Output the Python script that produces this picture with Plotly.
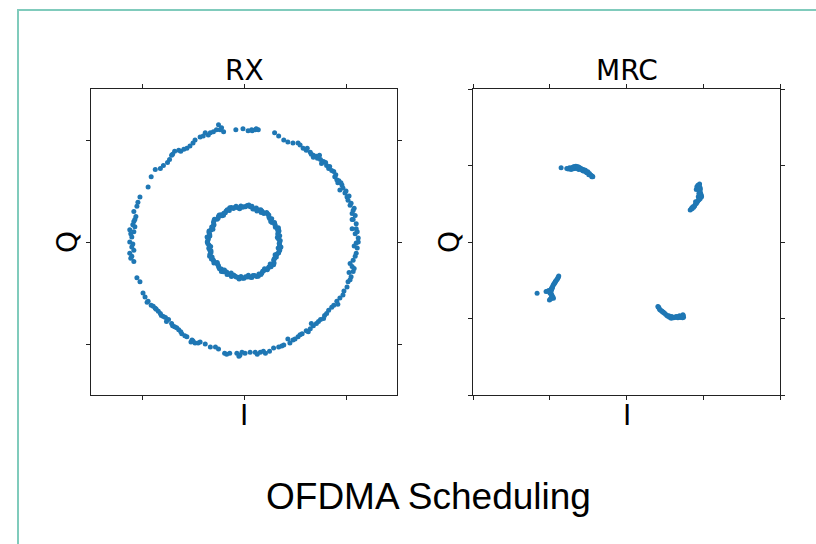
import plotly.graph_objects as go

# ---------------- data ----------------
# RX constellation: outer ring
rx_outer_i = [-0.25, -0.235, -0.20, -0.33, -0.35, -0.30, -0.08, -0.01, 0.04, 0.075, 0.11, 0.14,
              0.30, 0.34, 0.39, 0.43, 0.48, 0.53, 0.55, 0.58, 0.61, 0.65, 0.68, 0.71, 0.75, 0.78,
              0.81, 0.83, 0.88, 0.89, 0.91, 0.96, 0.97, 0.99, 1.01, 1.02, 1.04, 1.07, 1.09, 1.07,
              1.10, 1.10, 1.09, 1.12, 1.10, 1.11, 1.10, 1.07, 1.06, 1.07, 1.05, 1.02, 1.01, 0.97,
              0.94, 0.91, 0.88, 0.83, 0.79, 0.75, 0.71, 0.68, 0.65, 0.61, 0.57, 0.53, 0.48, 0.43,
              0.39, 0.34, 0.29, 0.25, 0.21, 0.16, 0.11, 0.06, 0.01, -0.04, -0.07, -0.14, -0.19,
              -0.25, -0.28, -0.33, -0.38, -0.43, -0.48, -0.51, -0.56, -0.61, -0.64, -0.68, -0.71,
              -0.74, -0.77, -0.81, -0.84, -0.87, -0.91, -0.94, -0.97, -0.99, -1.02, -1.05, -1.08,
              -1.10, -1.12, -1.08, -1.10, -1.12, -1.10, -1.08, -1.12, -1.07, -1.08, -1.06, -1.08,
              -1.05, -1.04, -1.02, -0.94, -0.91, -0.87, -0.82, -0.79, -0.73, -0.71, -0.68, -0.64,
              -0.59, -0.56, -0.53, -0.48, -0.43, -0.38, -0.27,
              0.68, 0.76, 0.92, 0.94, 1.06, 1.06, 1.08, 0.78, 0.55, -0.50, -0.82, -0.95,
              0.62, 0.66, 0.72, 0.74, 0.80, 0.84, 0.86, 0.90, 0.93, 0.95,
              1.00, 1.03, 1.05, 1.08, 1.06, 1.11, 1.12, 1.08, 1.09, 1.04, 1.03, 1.04,
              0.98, 0.92, 0.86, 0.81, 0.73, 0.66, 0.63, 0.50, 0.45, 0.37,
              0.19, 0.13, -0.02, -0.05, -0.17,
              -0.45, -0.52, -0.58, -0.62, -0.66, -0.70, -0.76, -0.79, -0.86, -0.89,
              -1.11, -1.09, -1.11, -1.09, -1.07,
              -0.75, -0.70, -0.62, -0.50, -0.40,
              -0.22, 0.08, 0.12]
rx_outer_q = [1.15, 1.10, 1.08, 1.07, 1.05, 1.08, 1.10, 1.11, 1.09, 1.10, 1.10, 1.10,
              1.07, 1.04, 1.00, 0.98, 0.97, 0.97, 0.95, 0.92, 0.90, 0.88, 0.85, 0.84, 0.81, 0.79,
              0.75, 0.72, 0.69, 0.64, 0.61, 0.56, 0.53, 0.48, 0.44, 0.41, 0.36, 0.31, 0.26, 0.22,
              0.18, 0.13, 0.08, 0.04, -0.01, -0.06, -0.11, -0.18, -0.24, -0.29, -0.34, -0.39,
              -0.44, -0.52, -0.55, -0.58, -0.62, -0.67, -0.72, -0.76, -0.80, -0.82, -0.85, -0.87,
              -0.90, -0.93, -0.96, -0.95, -1.01, -1.03, -1.04, -1.07, -1.09, -1.08, -1.08, -1.08,
              -1.09, -1.11, -1.09, -1.09, -1.09, -1.05, -1.03, -1.03, -1.00, -0.98, -0.99, -0.96,
              -0.93, -0.90, -0.86, -0.83, -0.80, -0.76, -0.74, -0.72, -0.68, -0.65, -0.62, -0.58,
              -0.54, -0.50, -0.39, -0.35, -0.19, -0.14, -0.11, -0.08, -0.05, 0.00, 0.05, 0.10,
              0.12, 0.15, 0.20, 0.25, 0.30, 0.35, 0.39, 0.44, 0.54, 0.64, 0.71, 0.72, 0.75, 0.81,
              0.85, 0.89, 0.90, 0.91, 0.92, 0.94, 1.00, 1.03, 1.07, 1.10,
              0.83, 0.77, 0.58, 0.51, 0.28, 0.13, -0.26, -0.75, -0.91, -0.97, -0.70, -0.59,
              0.92, 0.86, 0.82, 0.85, 0.78, 0.74, 0.70, 0.66, 0.60, 0.58,
              0.50, 0.45, 0.38, 0.33, 0.22, 0.10, 0.00, -0.04, -0.14, -0.21, -0.30, -0.37,
              -0.48, -0.61, -0.64, -0.70, -0.78, -0.80, -0.88, -0.95, -0.99, -1.02,
              -1.07, -1.10, -1.08, -1.12, -1.10,
              -0.99, -0.98, -0.92, -0.88, -0.84, -0.82, -0.78, -0.73, -0.66, -0.63,
              -0.16, -0.02, 0.08, 0.17, 0.22,
              0.78, 0.86, 0.89, 0.97, 1.04,
              1.12, 1.09, 1.11]

# RX constellation: inner ring
rx_inner_i = [0.350, 0.339, 0.350, 0.333, 0.338, 0.308, 0.303, 0.274, 0.272, 0.244, 0.231, 0.195,
              0.175, 0.146, 0.121, 0.087, 0.061, 0.031,
              0.000, -0.031, -0.059, -0.091, -0.123, -0.144, -0.175, -0.198, -0.215, -0.251,
              -0.264, -0.295, -0.294, -0.317, -0.324, -0.343, -0.335, -0.349,
              -0.360, -0.344, -0.345, -0.328, -0.334, -0.313, -0.303, -0.295, -0.260, -0.247,
              -0.222, -0.204, -0.170, -0.148, -0.123, -0.089, -0.061, -0.030,
              0.000, 0.030, 0.061, 0.088, 0.123, 0.146, 0.175, 0.195, 0.228, 0.244, 0.268,
              0.295, 0.294, 0.317, 0.324, 0.343, 0.335, 0.349,
              0.327, 0.337, 0.262, 0.222, 0.126, 0.048, -0.043, -0.140, -0.201, -0.290, -0.305,
              -0.362, -0.327, -0.337, -0.262, -0.222, -0.126, -0.048, 0.043, 0.140, 0.201,
              0.290, 0.305, 0.362,
              0.355, 0.332, 0.343, 0.306, 0.299, 0.251, 0.243, 0.185, 0.164, 0.102, 0.078, 0.015,
              -0.015, -0.078, -0.104, -0.164, -0.183, -0.243, -0.254, -0.299, -0.302, -0.343,
              -0.337, -0.355,
              -0.355, -0.337, -0.324, -0.319, -0.295, -0.251, -0.240, -0.185, -0.166, -0.102,
              -0.076, -0.015,
              0.015, 0.077, 0.104, 0.166, 0.183, 0.236, 0.265, 0.291, 0.302, 0.339, 0.351, 0.345,
              -0.324, -0.287, -0.192, -0.120, -0.225, 0.168, 0.329, 0.257]
rx_inner_q = [0.000, 0.030, 0.062, 0.089, 0.123, 0.144, 0.175, 0.192, 0.228, 0.244, 0.276, 0.279,
              0.303, 0.313, 0.334, 0.324, 0.345, 0.359,
              0.345, 0.354, 0.335, 0.338, 0.338, 0.308, 0.303, 0.283, 0.257, 0.251, 0.222,
              0.206, 0.170, 0.148, 0.118, 0.092, 0.059, 0.031,
              0.000, -0.030, -0.061, -0.088, -0.121, -0.146, -0.175, -0.206, -0.219, -0.247,
              -0.264, -0.291, -0.294, -0.317, -0.338, -0.333, -0.345, -0.339,
              -0.355, -0.344, -0.345, -0.328, -0.338, -0.313, -0.303, -0.279, -0.272, -0.244,
              -0.225, -0.206, -0.170, -0.148, -0.118, -0.092, -0.059, -0.031,
              0.043, 0.140, 0.201, 0.290, 0.305, 0.362, 0.327, 0.337, 0.262, 0.222, 0.126,
              0.048, -0.043, -0.140, -0.201, -0.290, -0.305, -0.362, -0.327, -0.337, -0.262,
              -0.222, -0.126, -0.048,
              0.015, 0.074, 0.108, 0.159, 0.191, 0.230, 0.265, 0.291, 0.315, 0.324, 0.351, 0.345,
              0.340, 0.351, 0.329, 0.315, 0.287, 0.265, 0.233, 0.191, 0.157, 0.108, 0.075, 0.015,
              -0.015, -0.075, -0.102, -0.166, -0.188, -0.230, -0.262, -0.291, -0.319, -0.324,
              -0.342, -0.355,
              -0.340, -0.347, -0.329, -0.319, -0.287, -0.258, -0.243, -0.185, -0.157, -0.107,
              -0.078, -0.015,
              -0.087, -0.201, -0.274, -0.329, 0.268, 0.290, 0.120, -0.215]

# MRC output: four clusters
mrc_i = [-0.852, -0.778, -0.743, -0.709, -0.678, -0.648, -0.613, -0.591, -0.561, -0.535, -0.504,
         -0.483, -0.461, -0.439, -0.722, -0.657, -0.570, -0.517, -0.691, -0.622, -0.491, -0.452,
         -0.76, -0.73, -0.70, -0.665, -0.635, -0.60, -0.58, -0.55, -0.525, -0.475, -0.445,
         -0.69, -0.66, -0.63,
         0.930, 0.952, 0.961, 0.952, 0.974, 0.961, 0.930, 0.909, 0.887, 0.857, 0.830, 0.917,
         0.943, 0.900, 0.865, 0.935, 0.978, 0.909,
         0.94, 0.955, 0.96, 0.965, 0.97, 0.95, 0.94, 0.92, 0.895, 0.875, 0.845, 0.85, 0.955, 0.94,
         0.409, 0.430, 0.465, 0.496, 0.526, 0.561, 0.604, 0.648, 0.691, 0.735, 0.743, 0.700,
         0.422, 0.483, 0.552, 0.626, 0.670, 0.583,
         0.415, 0.44, 0.455, 0.475, 0.51, 0.54, 0.575, 0.59, 0.615, 0.635, 0.66, 0.68, 0.72,
         0.74, 0.73,
         -0.883, -0.896, -0.917, -0.939, -0.961, -0.970, -0.983, -1.013, -1.048, -0.996, -0.970,
         -0.983, -1.004, -0.952, -1.165, -0.926, -0.978,
         -0.89, -0.905, -0.93, -0.95, -0.965, -0.975, -1.00, -1.03, -0.985, -0.975, -0.975,
         -0.99, -0.96, -0.945]
mrc_q = [0.970, 0.961, 0.970, 0.974, 0.983, 0.983, 0.974, 0.961, 0.948, 0.939, 0.917,
         0.896, 0.874, 0.852, 0.948, 0.961, 0.930, 0.904, 0.957, 0.948, 0.878, 0.852,
         0.955, 0.96, 0.965, 0.97, 0.965, 0.955, 0.945, 0.925, 0.915, 0.88, 0.86,
         0.985, 0.99, 0.985,
         0.743, 0.757, 0.700, 0.657, 0.613, 0.570, 0.539, 0.504, 0.470, 0.439, 0.417, 0.722,
         0.635, 0.526, 0.461, 0.591, 0.591, 0.687,
         0.74, 0.72, 0.68, 0.64, 0.60, 0.56, 0.55, 0.52, 0.49, 0.455, 0.43, 0.445, 0.62, 0.70,
         -0.843, -0.878, -0.909, -0.930, -0.961, -0.983, -0.987, -0.974, -0.965, -0.952, -0.983,
         -0.987, -0.861, -0.922, -0.965, -0.983, -0.991, -0.996,
         -0.85, -0.89, -0.90, -0.915, -0.945, -0.97, -0.985, -0.975, -0.99, -0.985, -0.98,
         -0.975, -0.97, -0.965, -0.99,
         -0.443, -0.474, -0.504, -0.539, -0.574, -0.604, -0.635, -0.635, -0.648, -0.670, -0.704,
         -0.735, -0.757, -0.735, -0.670, -0.517, -0.604,
         -0.46, -0.49, -0.525, -0.555, -0.59, -0.62, -0.64, -0.645, -0.66, -0.69, -0.72,
         -0.745, -0.72, -0.55]

rx_ticks = [-1, 0, 1]
mrc_ticks = [-2, -1, 0, 1, 2]
panel_titles = ["RX", "MRC"]
x_label, y_label = "I", "Q"
main_title = "OFDMA Scheduling"

# ---------------- figure ----------------
W, H = 816, 544
BLUE = "#1f77b4"
FRAME = "rgb(128,203,188)"

def px(x):
    return x / W

def py(y):
    return 1 - y / H

fig = go.Figure()
mk = dict(color=BLUE, size=5, line=dict(width=0))
fig.add_trace(go.Scatter(x=rx_outer_i + rx_inner_i, y=rx_outer_q + rx_inner_q, mode="markers",
                         marker=mk, xaxis="x", yaxis="y", showlegend=False, hoverinfo="skip"))
fig.add_trace(go.Scatter(x=mrc_i, y=mrc_q, mode="markers", marker=mk,
                         xaxis="x2", yaxis="y2", showlegend=False, hoverinfo="skip"))

ax_common = dict(showline=True, linecolor="#222", linewidth=1, mirror="ticks",
                 ticks="outside", ticklen=4, tickwidth=1, tickcolor="#222",
                 showticklabels=False, showgrid=False, zeroline=False, fixedrange=True)

L = (91, 397)
R = (473, 780)
T, B = 89, 395
ydom = [py(B), py(T)]

fig.update_layout(
    width=W, height=H, margin=dict(l=0, r=0, t=0, b=0),
    paper_bgcolor="white", plot_bgcolor="white",
    xaxis=dict(domain=[px(L[0]), px(L[1])], range=[-1.5, 1.5], tickvals=rx_ticks, anchor="y", **ax_common),
    yaxis=dict(domain=ydom, range=[-1.5, 1.5], tickvals=rx_ticks, anchor="x", **ax_common),
    xaxis2=dict(domain=[px(R[0]), px(R[1])], range=[-2, 2], tickvals=mrc_ticks, anchor="y2", **ax_common),
    yaxis2=dict(domain=ydom, range=[-2, 2], tickvals=mrc_ticks, anchor="x2", **ax_common),
)

lab_font = dict(family="DejaVu Sans", size=28, color="black")
ann = []
for (l, r), t in zip([L, R], panel_titles):
    cx = (l + r) / 2
    ann.append(dict(x=px(cx), y=py(71), xref="paper", yref="paper", text=t, showarrow=False,
                    xanchor="center", yanchor="middle", font=lab_font))
    ann.append(dict(x=px(cx), y=py(415), xref="paper", yref="paper", text=x_label, showarrow=False,
                    xanchor="center", yanchor="middle", font=lab_font))
    ann.append(dict(x=px(l - 24), y=py(242), xref="paper", yref="paper", text=y_label, showarrow=False,
                    xanchor="center", yanchor="middle", textangle=-90, font=lab_font))
ann.append(dict(x=px(428), y=py(496), xref="paper", yref="paper", text=main_title, showarrow=False,
                xanchor="center", yanchor="middle",
                font=dict(family="Liberation Sans", size=37, color="black")))
fig.update_layout(annotations=ann)

fig.add_shape(type="path", xref="paper", yref="paper",
              path=f"M {px(18)} {py(544)} L {px(18)} {py(10)} L {px(816)} {py(10)}",
              line=dict(color=FRAME, width=2))

fig.write_html("out.html", config={"displayModeBar": False},
               post_script="document.body.style.margin='0';")
